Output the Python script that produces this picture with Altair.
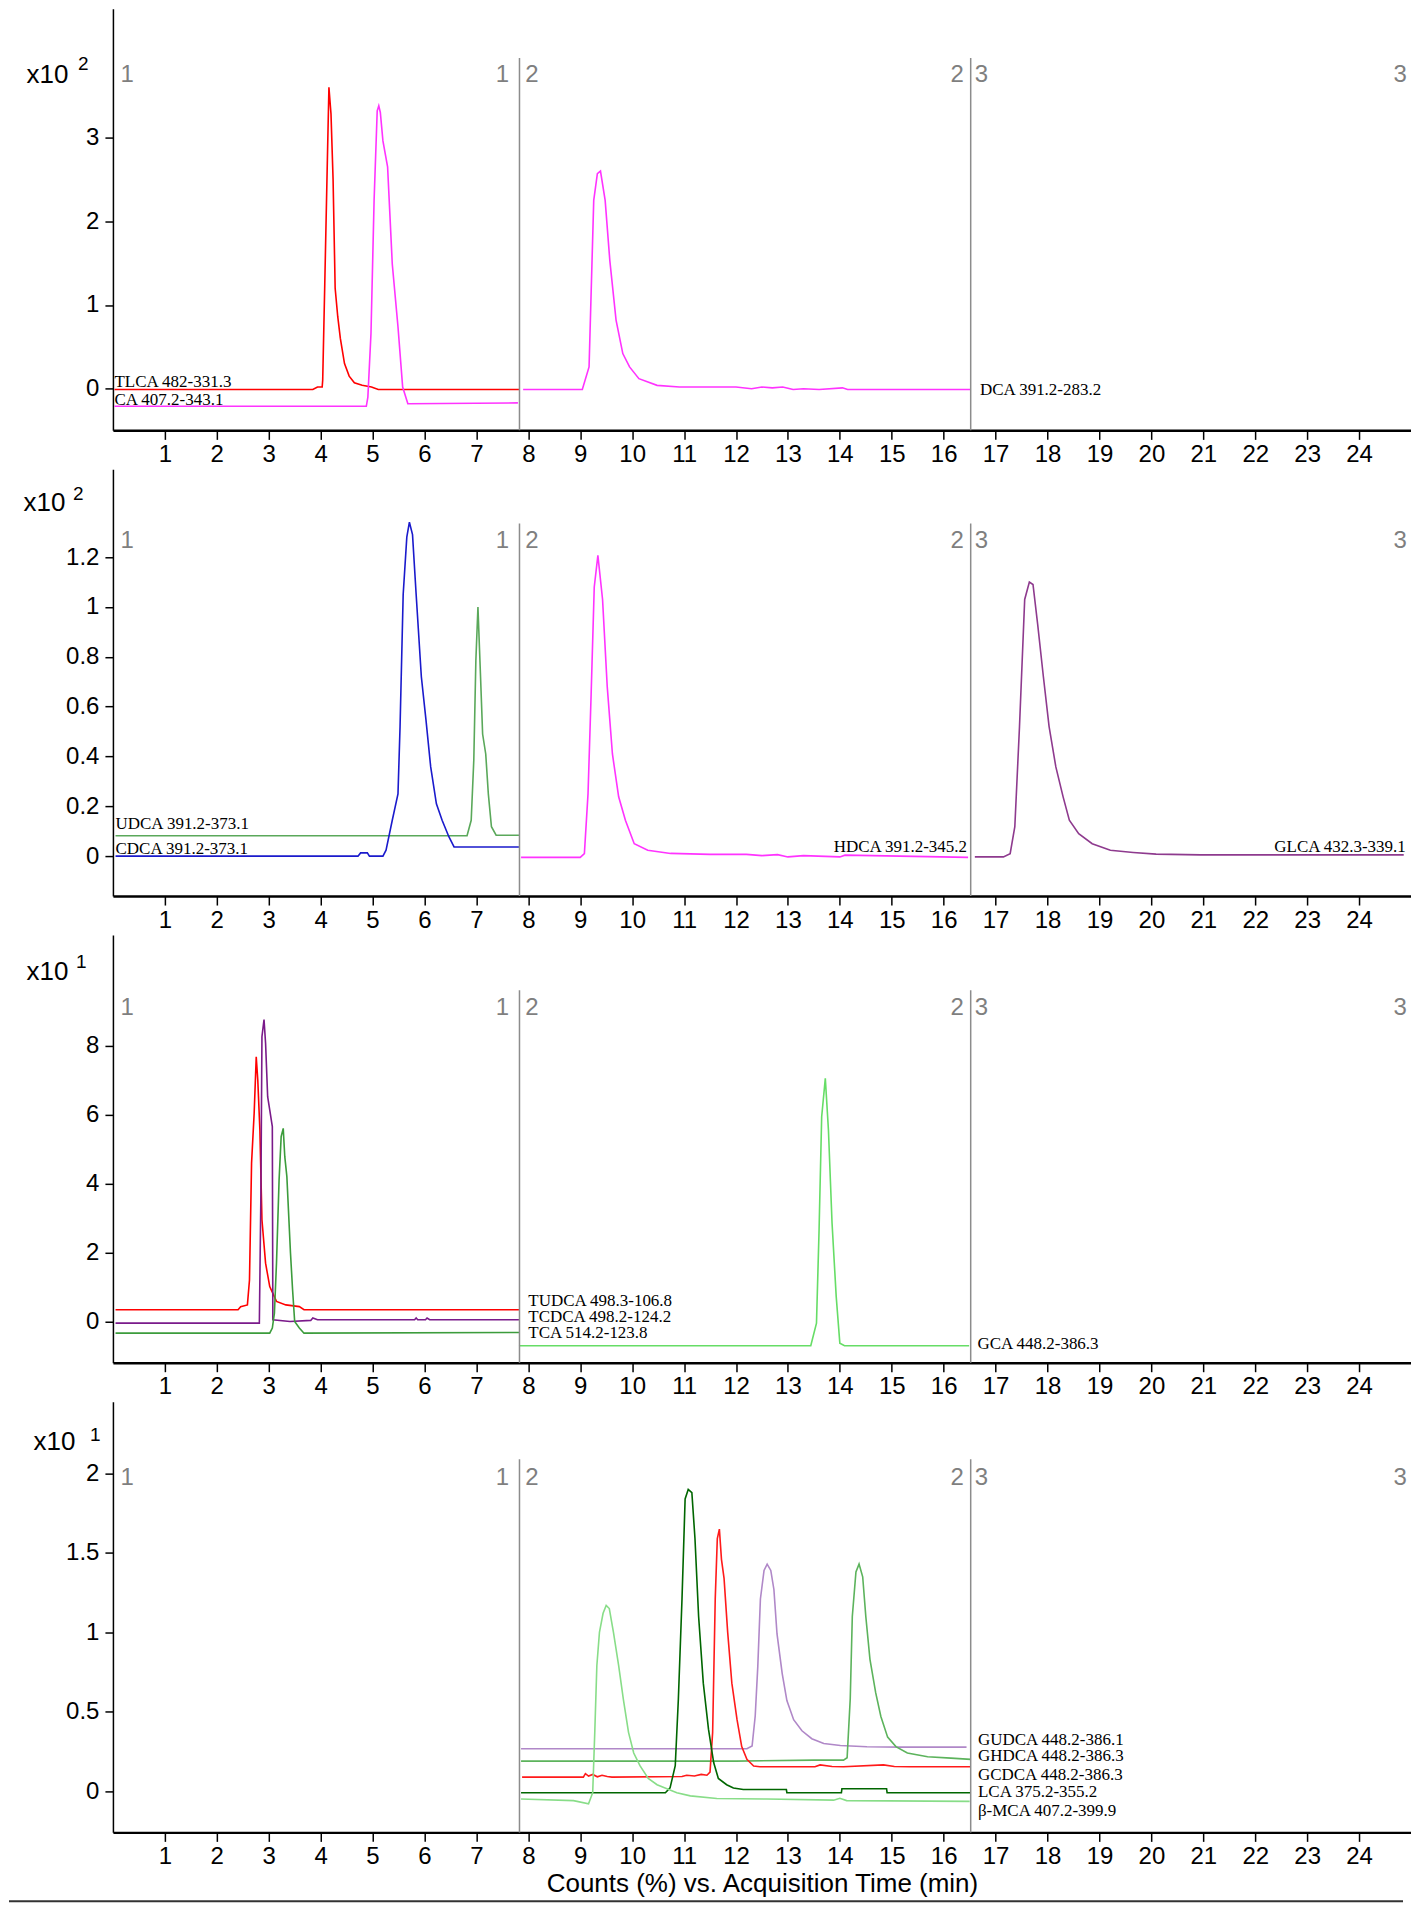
import altair as alt
import pandas as pd

# ---------------- shared axis / segment data ----------------
x_ticks = list(range(1, 25))
seg_bounds = [7.83, 16.52]
seg_label_text = ["1", "1", "2", "2", "3", "3"]
seg_label_t = [0.145, 7.63, 7.94, 16.39, 16.6, 24.92]
seg_label_side = ["left", "right", "left", "right", "left", "right"]

# ---------------- panel 1 (x10^2) ----------------
TLCA_t = [0.03, 3.85, 3.94, 4.03, 4.04, 4.08, 4.13, 4.16, 4.20, 4.24, 4.28, 4.33, 4.38, 4.46, 4.55, 4.65, 4.80, 4.98, 5.11, 7.82]
TLCA_v = [-0.01, -0.01, 0.02, 0.02, 0.10, 1.25, 2.73, 3.60, 3.28, 2.50, 1.20, 0.86, 0.60, 0.30, 0.15, 0.07, 0.04, 0.02, -0.01, -0.01]
CA_t = [0.03, 4.88, 4.91, 4.97, 5.03, 5.09, 5.12, 5.15, 5.20, 5.29, 5.38, 5.49, 5.58, 5.68, 7.80]
CA_v = [-0.21, -0.21, -0.10, 0.66, 2.25, 3.32, 3.38, 3.30, 2.96, 2.65, 1.49, 0.74, 0.02, -0.18, -0.17]
DCA_t = [7.90, 9.04, 9.17, 9.26, 9.33, 9.39, 9.48, 9.57, 9.69, 9.82, 9.95, 10.13, 10.48, 10.91, 12.0, 12.3, 12.5, 12.7, 12.9, 13.1, 13.3, 13.6, 14.05, 14.15, 16.52]
DCA_v = [-0.01, -0.01, 0.26, 2.25, 2.57, 2.60, 2.25, 1.53, 0.82, 0.42, 0.26, 0.12, 0.04, 0.02, 0.02, 0.0, 0.02, 0.01, 0.02, -0.01, 0.0, -0.01, 0.01, -0.01, -0.01]

# ---------------- panel 2 (x10^2) ----------------
UDCA_t = [0.05, 6.82, 6.90, 6.95, 6.99, 7.03, 7.08, 7.12, 7.18, 7.23, 7.29, 7.38, 7.82]
UDCA_v = [0.082, 0.082, 0.144, 0.385, 0.786, 1.0, 0.72, 0.49, 0.41, 0.25, 0.118, 0.084, 0.084]
CDCA_t = [0.05, 4.72, 4.77, 4.90, 4.94, 5.20, 5.26, 5.38, 5.49, 5.53, 5.59, 5.66, 5.71, 5.77, 5.84, 5.94, 6.03, 6.12, 6.23, 6.34, 6.47, 6.57, 7.82]
CDCA_v = [0.0, 0.0, 0.013, 0.013, 0.0, 0.0, 0.024, 0.144, 0.25, 0.52, 1.05, 1.28, 1.34, 1.29, 1.05, 0.72, 0.545, 0.358, 0.21, 0.144, 0.078, 0.037, 0.037]
HDCA_t = [7.86, 9.00, 9.08, 9.15, 9.21, 9.27, 9.34, 9.43, 9.52, 9.62, 9.74, 9.87, 10.04, 10.30, 10.74, 11.5, 12.2, 12.5, 12.8, 13.0, 13.3, 14.0, 14.1, 16.47]
HDCA_v = [-0.005, -0.005, 0.01, 0.25, 0.65, 1.08, 1.207, 1.03, 0.68, 0.41, 0.238, 0.144, 0.05, 0.024, 0.011, 0.007, 0.007, 0.002, 0.006, -0.003, 0.002, -0.003, 0.004, -0.005]
GLCA_t = [16.6, 17.15, 17.28, 17.37, 17.46, 17.56, 17.65, 17.72, 17.81, 17.92, 18.03, 18.16, 18.30, 18.42, 18.60, 18.86, 19.21, 19.65, 20.09, 20.95, 24.86]
GLCA_v = [-0.003, -0.003, 0.01, 0.118, 0.52, 1.03, 1.10, 1.09, 0.93, 0.72, 0.52, 0.358, 0.238, 0.144, 0.09, 0.05, 0.024, 0.015, 0.008, 0.005, 0.005]

# ---------------- panel 3 (x10^1) ----------------
TUDCA_t = [0.05, 2.41, 2.46, 2.59, 2.63, 2.67, 2.72, 2.76, 2.79, 2.83, 2.87, 2.94, 3.02, 3.15, 3.33, 3.59, 3.68, 7.82]
TUDCA_v = [0.34, 0.34, 0.43, 0.48, 1.2, 4.59, 6.04, 7.68, 7.0, 5.56, 2.95, 1.69, 1.01, 0.58, 0.48, 0.43, 0.34, 0.34]
TCDCA_t = [0.05, 2.82, 2.85, 2.87, 2.91, 2.94, 2.98, 3.02, 3.07, 3.08, 3.41, 3.81, 3.85, 3.94, 5.81, 5.84, 5.87, 6.02, 6.05, 6.10, 7.82]
TCDCA_v = [-0.05, -0.05, 3.72, 8.26, 8.76, 8.07, 6.52, 6.14, 5.65, 0.05, 0.0, 0.03, 0.1, 0.05, 0.05, 0.1, 0.05, 0.05, 0.1, 0.05, 0.05]
TCA_t = [0.05, 3.02, 3.07, 3.11, 3.15, 3.20, 3.24, 3.28, 3.31, 3.35, 3.42, 3.46, 3.50, 3.59, 3.68, 7.82]
TCA_v = [-0.34, -0.34, -0.19, 0.24, 1.69, 4.1, 5.36, 5.6, 4.78, 4.2, 1.98, 0.92, 0.0, -0.19, -0.34, -0.32]
GCA_t = [7.82, 13.44, 13.55, 13.60, 13.65, 13.72, 13.78, 13.85, 13.93, 14.00, 14.09, 16.49]
GCA_v = [-0.705, -0.705, -0.05, 2.66, 5.94, 7.05, 5.56, 2.85, 0.72, -0.63, -0.705, -0.705]

# ---------------- panel 4 (x10^1) ----------------
GUDCA_t = [7.86, 12.21, 12.31, 12.37, 12.42, 12.47, 12.54, 12.60, 12.67, 12.73, 12.79, 12.89, 12.98, 13.11, 13.27, 13.46, 13.69, 14.01, 14.52, 15.16, 16.44]
GUDCA_v = [0.267, 0.267, 0.284, 0.473, 0.787, 1.21, 1.39, 1.43, 1.39, 1.27, 0.99, 0.74, 0.57, 0.45, 0.38, 0.33, 0.30, 0.287, 0.279, 0.277, 0.277]
GHDCA_t = [7.86, 12.0, 13.5, 14.07, 14.14, 14.20, 14.24, 14.31, 14.37, 14.44, 14.50, 14.58, 14.69, 14.79, 14.92, 15.08, 15.30, 15.69, 16.14, 16.52]
GHDCA_v = [0.189, 0.189, 0.195, 0.195, 0.21, 0.58, 1.1, 1.38, 1.43, 1.35, 1.1, 0.83, 0.62, 0.47, 0.34, 0.28, 0.24, 0.216, 0.208, 0.20]
GCDCA_t = [7.88, 9.06, 9.10, 9.16, 9.24, 9.33, 9.42, 9.52, 9.61, 10.96, 11.05, 11.20, 11.33, 11.44, 11.50, 11.55, 11.60, 11.64, 11.68, 11.72, 11.77, 11.84, 11.92, 12.02, 12.11, 12.21, 12.34, 12.46, 13.52, 13.62, 13.85, 14.07, 14.84, 15.05, 15.35, 16.52]
GCDCA_v = [0.088, 0.088, 0.11, 0.095, 0.105, 0.09, 0.10, 0.092, 0.088, 0.092, 0.10, 0.095, 0.105, 0.10, 0.12, 0.37, 1.21, 1.59, 1.65, 1.46, 1.34, 1.0, 0.68, 0.45, 0.28, 0.20, 0.158, 0.153, 0.153, 0.165, 0.155, 0.153, 0.165, 0.155, 0.153, 0.153]
LCA_t = [7.86, 10.64, 10.73, 10.83, 10.89, 10.96, 11.02, 11.08, 11.15, 11.21, 11.28, 11.37, 11.47, 11.57, 11.66, 11.82, 11.95, 12.14, 12.97, 12.98, 14.03, 14.04, 14.90, 14.91, 16.52]
LCA_v = [-0.01, -0.01, 0.02, 0.16, 0.58, 1.21, 1.84, 1.90, 1.88, 1.59, 1.10, 0.68, 0.39, 0.18, 0.08, 0.04, 0.02, 0.01, 0.01, -0.01, -0.01, 0.015, 0.015, -0.01, -0.01]
BMCA_t = [7.86, 8.87, 9.16, 9.24, 9.28, 9.32, 9.37, 9.44, 9.50, 9.56, 9.64, 9.74, 9.83, 9.93, 10.03, 10.15, 10.31, 10.48, 10.67, 10.86, 11.12, 11.63, 12.59, 13.88, 14.0, 14.13, 16.5]
BMCA_v = [-0.05, -0.06, -0.08, -0.01, 0.37, 0.79, 1.0, 1.12, 1.17, 1.15, 1.0, 0.79, 0.58, 0.37, 0.24, 0.16, 0.08, 0.04, 0.015, -0.01, -0.03, -0.047, -0.05, -0.057, -0.045, -0.06, -0.065]

# ---------------- trace labels (text, anchor time, anchor value) ----------------
p1_lab_text = ["TLCA 482-331.3", "CA 407.2-343.1", "DCA 391.2-283.2"]
p1_lab_t = [0.03, 0.03, 16.7]
p1_lab_v = [0.02, -0.19, -0.01]
p2_lab_text = ["UDCA 391.2-373.1", "CDCA 391.2-373.1", "HDCA 391.2-345.2", "GLCA 432.3-339.1"]
p2_lab_t = [0.05, 0.05, 16.45, 24.9]
p2_lab_v = [0.107, 0.007, 0.017, 0.017]
p3_lab_text = ["TUDCA 498.3-106.8", "TCDCA 498.2-124.2", "TCA 514.2-123.8", "GCA 448.2-386.3"]
p3_lab_t = [8.0, 8.0, 8.0, 16.65]
p3_lab_v = [0.45, -0.02, -0.47, -0.64]
p4_lab_text = ["GUDCA 448.2-386.1", "GHDCA 448.2-386.3", "GCDCA 448.2-386.3", "LCA 375.2-355.2", "β-MCA 407.2-399.9"]
p4_lab_t = [16.66, 16.66, 16.66, 16.66, 16.66]
p4_lab_v = [0.325, 0.218, 0.103, -0.006, -0.126]

# ---------------- styles ----------------
COLORS = {
    "TLCA": "#ff0000", "CA": "#ff33ff", "DCA": "#ff33ff",
    "UDCA": "#5aa85a", "CDCA": "#1a1acc", "HDCA": "#ff33ff", "GLCA": "#8e3a8e",
    "TUDCA": "#ff0000", "TCDCA": "#7a1a8a", "TCA": "#3c9c3c", "GCA": "#66dd66",
    "GUDCA": "#b088c8", "GHDCA": "#5cb35c", "GCDCA": "#ff1a1a", "LCA": "#006600", "BMCA": "#88dd88",
}
COLOR_SCALE = alt.Scale(domain=list(COLORS.keys()), range=list(COLORS.values()))
FONT = "Liberation Sans"
SERIF = "Liberation Serif"
W = 1299
X_DOMAIN = [0, 25]


def make_panel(traces, lab_text, lab_t, lab_v, lab_style, ydom, yticks, div_top, seg_y,
               base_text, exp_text, ttl_x, ttl_y, exp_dx, exp_dy, height, bottom=False):
    rows = []
    for name, ts, vs in traces:
        for t, v in zip(ts, vs):
            rows.append({"trace": name, "t": t, "v": v})
    df = pd.DataFrame(rows)
    xscale = alt.Scale(domain=X_DOMAIN, nice=False, zero=False)
    yscale = alt.Scale(domain=ydom, nice=False, zero=False)

    if bottom:
        xaxis = alt.Axis(values=x_ticks, title="Counts (%) vs. Acquisition Time (min)",
                         titleFontSize=26, titleFont=FONT, titleFontWeight="normal",
                         titleColor="black", titlePadding=2)
    else:
        xaxis = alt.Axis(values=x_ticks, title=None)
    yaxis = alt.Axis(values=yticks, format="~g", title=base_text, titleAngle=0,
                     titleAlign="left", titleBaseline="alphabetic", titleX=ttl_x, titleY=ttl_y,
                     titleFontSize=26, titleFont=FONT, titleFontWeight="normal", titleColor="black")

    lines = alt.Chart(df).mark_line(strokeWidth=1.6).encode(
        x=alt.X("t:Q", scale=xscale, axis=xaxis),
        y=alt.Y("v:Q", scale=yscale, axis=yaxis),
        color=alt.Color("trace:N", scale=COLOR_SCALE, legend=None),
        detail="trace:N",
    )

    div_df = pd.DataFrame({"t": seg_bounds, "v": [ydom[0]] * 2, "v2": [div_top] * 2})
    dividers = alt.Chart(div_df).mark_rule(color="#8c8c8c", strokeWidth=1.5).encode(
        x=alt.X("t:Q", scale=xscale), y=alt.Y("v:Q", scale=yscale), y2="v2:Q")

    seg_df = pd.DataFrame({"text": seg_label_text, "t": seg_label_t,
                           "v": [seg_y] * len(seg_label_t), "side": seg_label_side})
    layers = [lines, dividers]
    for side in ["left", "right"]:
        layers.append(
            alt.Chart(seg_df[seg_df.side == side]).mark_text(
                align=side, baseline="alphabetic", font=FONT, fontSize=24, color="#7f7f7f"
            ).encode(x=alt.X("t:Q", scale=xscale), y=alt.Y("v:Q", scale=yscale), text="text:N")
        )

    lab_df = pd.DataFrame({"text": lab_text, "t": lab_t, "v": lab_v, "style": lab_style})
    for st in sorted(set(lab_style)):
        align, base = st.split("-")
        layers.append(
            alt.Chart(lab_df[lab_df["style"] == st]).mark_text(
                align=align, baseline=base, font=SERIF, fontSize=17, color="black"
            ).encode(x=alt.X("t:Q", scale=xscale), y=alt.Y("v:Q", scale=yscale), text="text:N")
        )

    # exponent of the y-axis multiplier, raised beside "x10"
    layers.append(
        alt.Chart(pd.DataFrame({"text": [exp_text]})).mark_text(
            align="left", baseline="alphabetic", font=FONT, fontSize=19, color="black"
        ).encode(x=alt.value(ttl_x + exp_dx), y=alt.value(ttl_y - exp_dy), text="text:N")
    )

    if bottom:
        layers.append(
            alt.Chart(pd.DataFrame({"k": [0]})).mark_rule(color="#333333", strokeWidth=2).encode(
                x=alt.value(-104), x2=alt.value(1291), y=alt.value(500))
        )
    return alt.layer(*layers).properties(width=W, height=height)


p1 = make_panel(
    [("TLCA", TLCA_t, TLCA_v), ("CA", CA_t, CA_v), ("DCA", DCA_t, DCA_v)],
    p1_lab_text, p1_lab_t, p1_lab_v, ["left-alphabetic", "left-alphabetic", "left-middle"],
    [-0.498, 4.54], [0, 1, 2, 3], 3.95, 3.66, "x10", "2", -87, 74, 52, 13, 422)
p2 = make_panel(
    [("UDCA", UDCA_t, UDCA_v), ("CDCA", CDCA_t, CDCA_v), ("HDCA", HDCA_t, HDCA_v), ("GLCA", GLCA_t, GLCA_v)],
    p2_lab_text, p2_lab_t, p2_lab_v, ["left-alphabetic", "left-alphabetic", "right-alphabetic", "right-alphabetic"],
    [-0.160, 1.552], [0, 0.2, 0.4, 0.6, 0.8, 1, 1.2], 1.335, 1.235, "x10", "2", -90, 41, 50, 10, 427)
p3 = make_panel(
    [("TUDCA", TUDCA_t, TUDCA_v), ("TCDCA", TCDCA_t, TCDCA_v), ("TCA", TCA_t, TCA_v), ("GCA", GCA_t, GCA_v)],
    p3_lab_text, p3_lab_t, p3_lab_v, ["left-alphabetic", "left-alphabetic", "left-alphabetic", "left-middle"],
    [-1.197, 11.21], [0, 2, 4, 6, 8], 9.61, 8.89, "x10", "1", -87, 45, 50, 12, 428)
p4 = make_panel(
    [("GUDCA", GUDCA_t, GUDCA_v), ("GHDCA", GHDCA_t, GHDCA_v), ("GCDCA", GCDCA_t, GCDCA_v),
     ("LCA", LCA_t, LCA_v), ("BMCA", BMCA_t, BMCA_v)],
    p4_lab_text, p4_lab_t, p4_lab_v, ["left-middle"] * 5,
    [-0.26, 2.453], [0, 0.5, 1, 1.5, 2], 2.09, 1.93, "x10", "1", -80, 48, 57, 9, 431, bottom=True)

chart = alt.vconcat(p1, p2, p3, p4, spacing=39, bounds="flush").properties(
    padding=0
).configure_view(stroke=None).configure_axis(
    grid=False, labelFont=FONT, labelFontSize=24, labelColor="black",
    domainColor="black", tickColor="black", labelFlush=False,
).configure_axisX(
    tickSize=9, domainWidth=2.5, tickWidth=1.5, labelPadding=3,
).configure_axisY(
    tickSize=8, domainWidth=1.5, tickWidth=1.5, labelPadding=6,
)

chart.save("out.html", embed_options={"renderer": "svg", "actions": False})
